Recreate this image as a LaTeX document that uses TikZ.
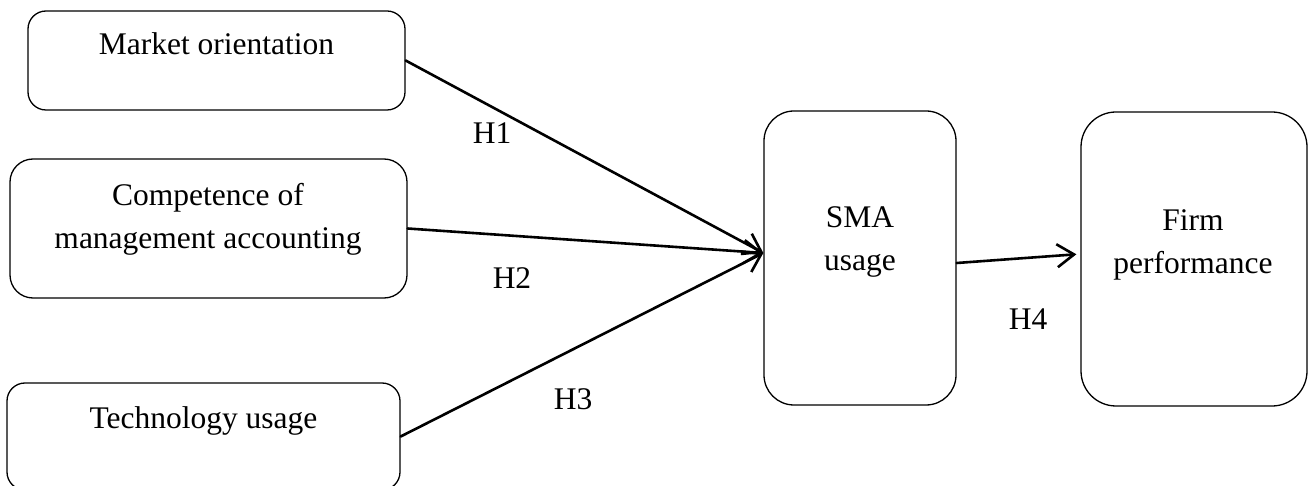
\documentclass[tikz,border=0pt]{standalone}
\usepackage{fontspec}
\setmainfont{Liberation Serif}
\usetikzlibrary{arrows.meta,positioning}
\tikzset{
  every picture/.style={line join=round, line cap=round, >={Straight Barb[length=17pt,width=23pt]}},
  box/.style={draw, line width=1.3pt, inner sep=0pt},
  txt/.style={font=\fontsize{31.5}{43}\selectfont, align=center, inner sep=0pt},
  link/.style={->, line width=2.6pt},
}
\begin{document}
\begin{tikzpicture}[x=1pt,y=-1pt]
\useasboundingbox (0,0) rectangle (1309,486);
% boxes
\node[box, minimum width=377pt, minimum height=99pt, rounded corners=18pt] (mo) at (216.5,60.5) {};
\node[box, minimum width=397pt, minimum height=139pt, rounded corners=23pt] (cma) at (208.5,228.5) {};
\node[box, minimum width=393pt, minimum height=107pt, rounded corners=18pt] (tu) at (203.5,436.5) {};
\node[box, minimum width=192pt, minimum height=294pt, rounded corners=30pt] (sma) at (860,258) {};
\node[box, minimum width=226pt, minimum height=294pt, rounded corners=35pt] (fp) at (1194,259) {};
% texts
\node[txt, anchor=base] (mo-t) at (216.5,55) {Market orientation};
\node[txt] (cma-t) at (208,219) {Competence of\\management accounting};
\node[txt, anchor=base] (tu-t) at (203.5,428) {Technology usage};
\node[txt] (sma-t) at (860,242) {SMA\\usage};
\node[txt] (fp-t) at (1193,245) {Firm\\performance};
% arrows
\draw[link] (mo.east) -- ([yshift=5pt]sma.west);
\draw[link] (cma.east) -- ([yshift=5pt]sma.west);
\draw[link] (tu.east) -- ([yshift=5pt]sma.west);
\draw[link, shorten >=4pt] ([yshift=-5pt]sma.east) -- ([yshift=5pt]fp.west);
% hypotheses
\node[txt] (h1) at (492,133) {H1};
\node[txt] (h2) at (512,278) {H2};
\node[txt] (h3) at (573,399) {H3};
\node[txt] (h4) at (1028,319) {H4};
\end{tikzpicture}
\end{document}
